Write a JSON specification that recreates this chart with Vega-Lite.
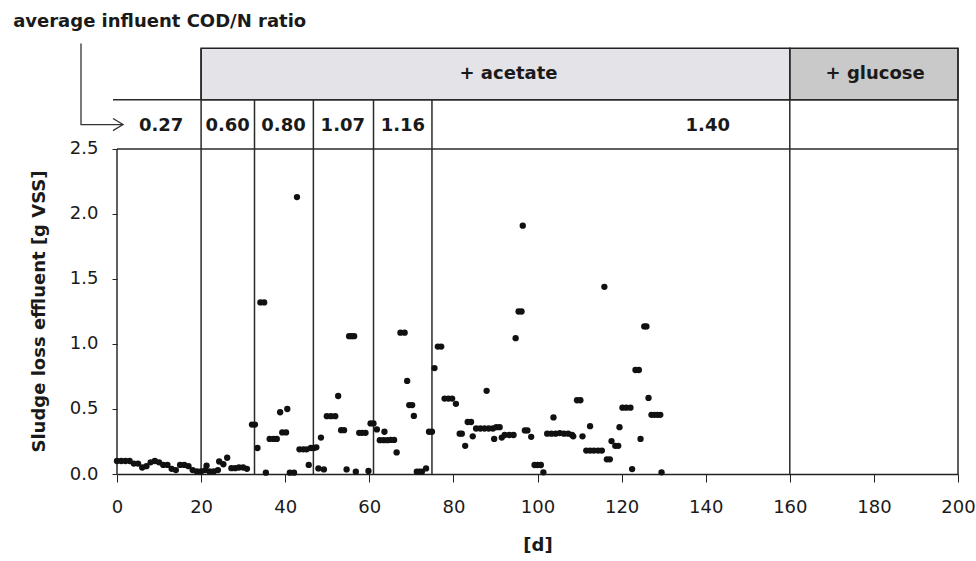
{
  "$schema": "https://vega.github.io/schema/vega-lite/v6.json",
  "width": 841,
  "height": 474,
  "autosize": {"type": "none"},
  "padding": {"left": 117, "top": 0, "right": 18, "bottom": 87},
  "background": "white",
  "config": {
    "view": {"stroke": null},
    "font": "DejaVu Sans",
    "axis": {"grid": false, "labelFont": "DejaVu Sans", "titleFont": "DejaVu Sans", "labelColor": "#1a1a1a", "titleColor": "#1a1a1a", "tickColor": "#222", "domainColor": "#222"}
  },
  "datasets": {
    "points": [
      {"x":0,"y":0.10},{"x":1,"y":0.10},{"x":2,"y":0.10},{"x":3,"y":0.10},{"x":4,"y":0.08},{"x":5,"y":0.08},{"x":6,"y":0.05},{"x":7,"y":0.06},{"x":8,"y":0.09},{"x":9,"y":0.10},{"x":10,"y":0.09},{"x":11,"y":0.07},{"x":12,"y":0.07},{"x":13,"y":0.04},{"x":14,"y":0.03},{"x":15,"y":0.07},{"x":16,"y":0.07},{"x":17,"y":0.06},{"x":18,"y":0.03},{"x":19,"y":0.02},{"x":20,"y":0.02},
      {"x":21,"y":0.03},{"x":21.3,"y":0.065},{"x":22,"y":0.02},{"x":23,"y":0.02},{"x":24,"y":0.03},{"x":24.3,"y":0.096},{"x":25.3,"y":0.075},{"x":26.2,"y":0.125},
      {"x":27.2,"y":0.045},{"x":28.1,"y":0.045},{"x":29.0,"y":0.05},{"x":30.0,"y":0.05},{"x":30.9,"y":0.04},
      {"x":32.1,"y":0.38},{"x":32.8,"y":0.38},{"x":33.4,"y":0.20},{"x":34.1,"y":1.32},{"x":35.0,"y":1.32},{"x":35.4,"y":0.01},
      {"x":36.3,"y":0.27},{"x":37.2,"y":0.27},{"x":38.0,"y":0.27},{"x":38.8,"y":0.475},{"x":39.3,"y":0.32},{"x":40.2,"y":0.32},{"x":40.5,"y":0.50},
      {"x":41.1,"y":0.01},{"x":42.1,"y":0.01},{"x":42.8,"y":2.13},{"x":43.4,"y":0.19},{"x":44.3,"y":0.19},{"x":45.1,"y":0.19},{"x":45.6,"y":0.07},
      {"x":46.1,"y":0.20},{"x":46.8,"y":0.20},{"x":47.4,"y":0.205},{"x":47.9,"y":0.043},{"x":48.5,"y":0.28},{"x":49.2,"y":0.035},
      {"x":49.9,"y":0.445},{"x":50.9,"y":0.445},{"x":51.9,"y":0.445},{"x":52.6,"y":0.60},{"x":53.3,"y":0.337},{"x":54.0,"y":0.337},{"x":54.6,"y":0.035},
      {"x":55.2,"y":1.06},{"x":55.8,"y":1.06},{"x":56.4,"y":1.06},{"x":56.8,"y":0.018},{"x":57.6,"y":0.317},{"x":58.3,"y":0.317},{"x":59.1,"y":0.317},{"x":59.8,"y":0.023},
      {"x":60.3,"y":0.389},{"x":61.0,"y":0.389},{"x":61.8,"y":0.343},{"x":62.5,"y":0.26},{"x":63.4,"y":0.26},{"x":63.6,"y":0.325},{"x":64.3,"y":0.26},{"x":65.1,"y":0.262},{"x":65.9,"y":0.262},
      {"x":66.5,"y":0.166},{"x":67.4,"y":1.087},{"x":68.4,"y":1.087},{"x":69.0,"y":0.716},{"x":69.5,"y":0.53},{"x":70.2,"y":0.53},{"x":70.6,"y":0.447},
      {"x":71.3,"y":0.018},{"x":71.9,"y":0.018},{"x":72.5,"y":0.018},{"x":73.5,"y":0.043},{"x":74.2,"y":0.325},{"x":74.9,"y":0.325},{"x":75.5,"y":0.815},
      {"x":76.3,"y":0.98},{"x":77.1,"y":0.98},{"x":77.9,"y":0.58},{"x":78.8,"y":0.58},{"x":79.7,"y":0.58},{"x":80.6,"y":0.54},{"x":81.5,"y":0.31},{"x":82.0,"y":0.31},
      {"x":82.8,"y":0.217},{"x":83.4,"y":0.40},{"x":84.2,"y":0.40},{"x":84.6,"y":0.29},{"x":85.4,"y":0.35},{"x":86.4,"y":0.35},{"x":87.4,"y":0.35},{"x":87.9,"y":0.64},
      {"x":88.4,"y":0.35},{"x":89.4,"y":0.35},{"x":89.7,"y":0.27},{"x":90.2,"y":0.36},{"x":91.0,"y":0.36},{"x":91.5,"y":0.28},{"x":92.2,"y":0.30},{"x":93.3,"y":0.30},{"x":94.3,"y":0.30},
      {"x":94.8,"y":1.045},{"x":95.5,"y":1.25},{"x":96.2,"y":1.25},{"x":96.5,"y":1.91},{"x":97.0,"y":0.335},{"x":97.6,"y":0.335},{"x":98.5,"y":0.286},
      {"x":99.3,"y":0.069},{"x":100.0,"y":0.069},{"x":100.8,"y":0.069},{"x":101.4,"y":0.013},{"x":102.3,"y":0.31},{"x":103.3,"y":0.31},{"x":103.8,"y":0.435},
      {"x":104.3,"y":0.31},{"x":105.3,"y":0.315},{"x":106.3,"y":0.31},{"x":107.3,"y":0.31},{"x":108.2,"y":0.30},{"x":108.5,"y":0.29},{"x":109.4,"y":0.567},{"x":110.2,"y":0.567},
      {"x":110.7,"y":0.29},{"x":111.6,"y":0.18},{"x":112.5,"y":0.18},{"x":112.5,"y":0.368},{"x":113.4,"y":0.18},{"x":114.4,"y":0.18},{"x":115.3,"y":0.18},{"x":115.9,"y":1.44},
      {"x":116.5,"y":0.113},{"x":117.2,"y":0.113},{"x":117.6,"y":0.253},{"x":118.5,"y":0.217},{"x":119.2,"y":0.217},{"x":119.5,"y":0.36},
      {"x":120.2,"y":0.51},{"x":121.1,"y":0.51},{"x":122.1,"y":0.51},{"x":122.5,"y":0.038},{"x":123.3,"y":0.80},{"x":124.1,"y":0.80},{"x":124.5,"y":0.27},
      {"x":125.4,"y":1.135},{"x":125.9,"y":1.135},{"x":126.4,"y":0.585},{"x":127.1,"y":0.455},{"x":127.8,"y":0.455},{"x":128.5,"y":0.455},{"x":129.2,"y":0.455},{"x":129.5,"y":0.013}
    ],
    "boxes": [
      {"x":20,"x2":160,"y":2.878,"y2":3.275,"phase":"acetate"},
      {"x":160,"x2":200,"y":2.878,"y2":3.275,"phase":"glucose"}
    ],
    "vrules": [
      {"x":0,"y":0,"y2":2.5},
      {"x":20,"y":0,"y2":3.275},
      {"x":32.7,"y":0,"y2":2.878},
      {"x":46.7,"y":0,"y2":2.878},
      {"x":61,"y":0,"y2":2.878},
      {"x":74.9,"y":0,"y2":2.878},
      {"x":160,"y":0,"y2":3.275},
      {"x":200,"y":0,"y2":3.275}
    ],
    "hrules": [
      {"y":2.5,"x":0,"x2":200},
      {"y":2.878,"x":-0.95,"x2":200}
    ],
    "labels": [
      {"x":93.1,"y":3.073,"text":"+ acetate"},
      {"x":180.3,"y":3.073,"text":"+ glucose"},
      {"x":10.5,"y":2.68,"text":"0.27"},
      {"x":26.3,"y":2.68,"text":"0.60"},
      {"x":39.6,"y":2.68,"text":"0.80"},
      {"x":53.7,"y":2.68,"text":"1.07"},
      {"x":68.0,"y":2.68,"text":"1.16"},
      {"x":140.5,"y":2.68,"text":"1.40"}
    ],
    "title": [
      {"x":-24.7,"y":3.473,"text":"average influent COD/N ratio"}
    ],
    "arrow": [
      {"g":"shaft","i":0,"x":-8.56,"y":3.312},
      {"g":"shaft","i":1,"x":-8.56,"y":2.688},
      {"g":"shaft","i":2,"x":1.43,"y":2.688},
      {"g":"head","i":0,"x":-0.95,"y":2.735},
      {"g":"head","i":1,"x":1.43,"y":2.688},
      {"g":"head","i":2,"x":-0.95,"y":2.641}
    ]
  },
  "encoding": {
    "x": {"field": "x", "type": "quantitative", "scale": {"domain": [0, 200], "nice": false, "zero": false},
      "axis": {"values": [0,20,40,60,80,100,120,140,160,180,200], "title": "[d]", "labelFontSize": 18, "titleFontSize": 18, "titleFontWeight": "bold", "tickSize": 8, "domainWidth": 1.5, "labelPadding": 16, "titlePadding": 20, "labelFlush": false}},
    "y": {"field": "y", "type": "quantitative", "scale": {"domain": [0, 3.646], "nice": false, "zero": false},
      "axis": {"values": [0,0.5,1,1.5,2,2.5], "format": ".1f", "title": "Sludge loss effluent [g VSS]", "domain": false, "labelFontSize": 18, "titleFontSize": 18, "titleFontWeight": "bold", "tickSize": 5, "labelPadding": 14, "titlePadding": 21, "titleY": 311}}
  },
  "layer": [
    {
      "data": {"name": "boxes"},
      "mark": {"type": "rect", "stroke": "#222", "strokeWidth": 1.5},
      "encoding": {
        "x2": {"field": "x2"},
        "y2": {"field": "y2"},
        "fill": {"field": "phase", "type": "nominal", "scale": {"domain": ["acetate", "glucose"], "range": ["#e4e3e8", "#c9c9c9"]}, "legend": null}
      }
    },
    {
      "data": {"name": "vrules"},
      "mark": {"type": "rule", "color": "#2a2a2a", "strokeWidth": 1.5},
      "encoding": {
        "y2": {"field": "y2"}
      }
    },
    {
      "data": {"name": "hrules"},
      "mark": {"type": "rule", "color": "#2a2a2a", "strokeWidth": 1.5},
      "encoding": {
        "x2": {"field": "x2"}
      }
    },
    {
      "data": {"name": "arrow"},
      "mark": {"type": "line", "color": "#333", "strokeWidth": 1.3},
      "encoding": {
        "detail": {"field": "g", "type": "nominal"},
        "order": {"field": "i", "type": "quantitative"}
      }
    },
    {
      "data": {"name": "labels"},
      "mark": {"type": "text", "fontSize": 18, "fontWeight": "bold", "font": "DejaVu Sans", "color": "#1a1a1a", "align": "center", "baseline": "middle"},
      "encoding": {
        "text": {"field": "text", "type": "nominal"}
      }
    },
    {
      "data": {"name": "title"},
      "mark": {"type": "text", "fontSize": 18, "fontWeight": "bold", "font": "DejaVu Sans", "color": "#1a1a1a", "align": "left", "baseline": "middle"},
      "encoding": {
        "text": {"field": "text", "type": "nominal"}
      }
    },
    {
      "data": {"name": "points"},
      "mark": {"type": "circle", "color": "#111", "opacity": 1, "size": 40},
      "encoding": {}
    }
  ]
}
